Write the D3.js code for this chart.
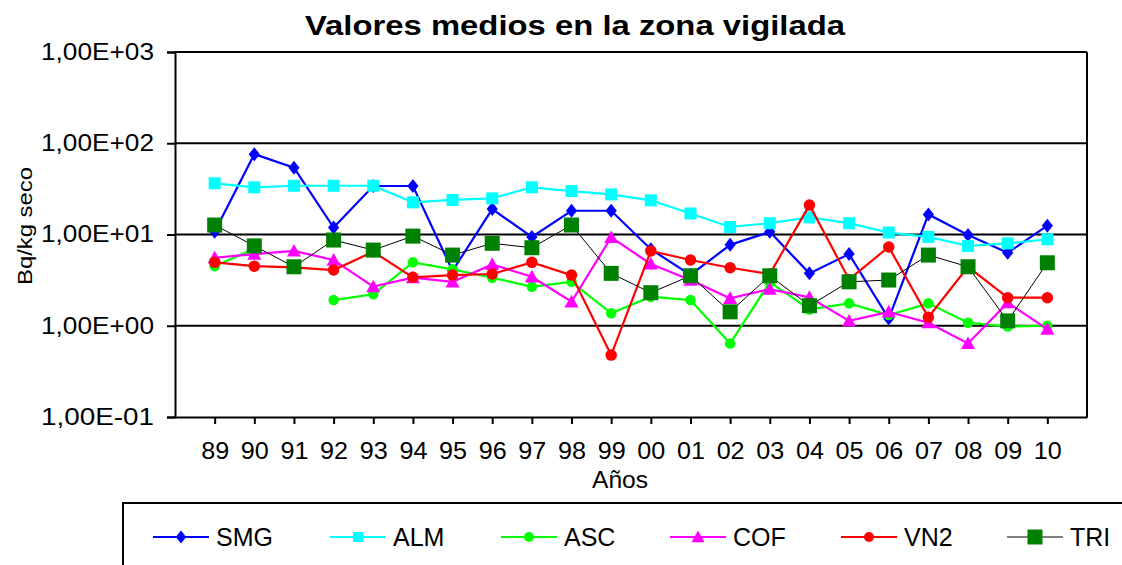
<!DOCTYPE html>
<html><head><meta charset="utf-8">
<script src="https://cdn.jsdelivr.net/npm/d3@7"></script>
<style>
html,body{margin:0;padding:0;background:#fff;}
svg{display:block;font-family:"Liberation Sans",Arial,sans-serif;}
</style></head>
<body>
<svg id="chart" width="1122" height="565"></svg>
<script>
const years = ["89","90","91","92","93","94","95","96","97","98","99","00","01","02","03","04","05","06","07","08","09","10"];
const SMG = [10.7,76,54,11.9,34,34,4.0,19,9.4,18.2,18.2,6.9,3.6,7.7,10.7,3.75,6.1,1.2,16.6,9.9,6.3,12.5];
const ALM = [36.4,32.9,34.2,34.2,34.2,22.5,23.9,24.9,32.9,29.9,27.5,23.7,17,12.1,13.3,15.4,13.3,10.5,9.4,7.5,8.0,8.85];
const ASC = [4.5,7.0,null,1.91,2.21,4.95,4.15,3.36,2.68,3.03,1.37,2.08,1.91,0.64,3.0,1.51,1.76,1.31,1.76,1.08,0.98,1.0];
const COF = [5.56,6.1,6.6,5.25,2.68,3.36,3.03,4.7,3.44,1.83,9.3,4.75,3.17,2.0,2.52,2.05,1.13,1.42,1.08,0.64,1.79,0.92];
const VN2 = [4.95,4.5,4.36,4.08,6.47,3.39,3.59,3.69,4.95,3.59,0.477,6.6,5.25,4.32,3.69,21,3.22,7.3,1.24,4.43,2.03,2.03];
const TRI = [12.7,7.5,4.43,8.7,6.75,9.6,5.95,8.0,7.16,12.7,3.75,2.3,3.53,1.42,3.53,1.66,3.03,3.17,5.95,4.43,1.13,4.9];
const yTicks = [0.1,1,10,100,1000];
const yTickLabels = ["1,00E-01","1,00E+00","1,00E+01","1,00E+02","1,00E+03"];
const seriesNames = ["SMG","ALM","ASC","COF","VN2","TRI"];

const series = [
  {name:"SMG", values:SMG, line:"#0000ff", fill:"#0000ff", shape:"diamond", size:14, lw:2.2},
  {name:"ALM", values:ALM, line:"#00ffff", fill:"#00ffff", shape:"square", size:12, lw:2.2},
  {name:"ASC", values:ASC, line:"#00ff00", fill:"#00ff00", shape:"circle", size:10.5, lw:2.2},
  {name:"COF", values:COF, line:"#ff00ff", fill:"#ff00ff", shape:"triangle", size:14, lw:2.2},
  {name:"VN2", values:VN2, line:"#ff0000", fill:"#ff0000", shape:"circle", size:11.5, lw:2.2},
  {name:"TRI", values:TRI, line:"#000000", fill:"#008000", shape:"square", size:15, lw:1}
];

const svg = d3.select("#chart");
const L = 175, R = 1087, T = 52, B = 417;
const x = d3.scalePoint().domain(years).range([L,R]).padding(1);
const y = d3.scaleLog().domain([0.1,1000]).range([B,T]);

function fit(sel,len){ sel.attr("textLength",len).attr("lengthAdjust","spacingAndGlyphs"); return sel; }

// title
fit(svg.append("text").attr("x",575).attr("y",35).attr("text-anchor","middle")
  .attr("font-weight","bold").attr("font-size",28).text("Valores medios en la zona vigilada"),540);

// gridlines
svg.append("g").selectAll("line").data(yTicks.slice(1)).join("line")
  .attr("x1",L).attr("x2",R).attr("y1",d=>y(d)).attr("y2",d=>y(d))
  .attr("stroke","#000").attr("stroke-width",2);
// right border
svg.append("line").attr("x1",R).attr("x2",R).attr("y1",T).attr("y2",B).attr("stroke","#000").attr("stroke-width",2);

// y axis
const yAxis = d3.axisLeft(y).tickValues(yTicks).tickFormat((d,i)=>yTickLabels[i]).tickSize(8).tickPadding(13);
const gy = svg.append("g").attr("transform",`translate(${L},0)`).call(yAxis);
gy.select(".domain").attr("stroke","#000").attr("stroke-width",2);
gy.selectAll(".tick line").attr("stroke","#000").attr("stroke-width",2);
fit(gy.selectAll("text").attr("font-size",23).attr("fill","#000").attr("font-family","Liberation Sans, Arial, sans-serif"),113);

// x axis
const xAxis = d3.axisBottom(x).tickSize(7).tickPadding(19).tickSizeOuter(0);
const gx = svg.append("g").attr("transform",`translate(0,${B})`).call(xAxis);
gx.select(".domain").attr("stroke","#000").attr("stroke-width",2);
gx.selectAll(".tick line").attr("stroke","#000").attr("stroke-width",2);
fit(gx.selectAll("text").attr("font-size",23).attr("fill","#000").attr("font-family","Liberation Sans, Arial, sans-serif"),28);

// axis titles
fit(svg.append("text").attr("x",620).attr("y",488).attr("text-anchor","middle").attr("font-size",23).text("Años"),56);
fit(svg.append("text").attr("transform","translate(32,226) rotate(-90)").attr("text-anchor","middle").attr("font-size",21).text("Bq/kg seco"),118);

function shapePath(shape,s){
  const h=s/2;
  if(shape==="diamond") return `M0,${-h}L${h*0.8},0L0,${h}L${-h*0.8},0Z`;
  if(shape==="square") return `M${-h},${-h}H${h}V${h}H${-h}Z`;
  if(shape==="triangle") return `M0,${-h}L${h},${h*0.8}L${-h},${h*0.8}Z`;
  return d3.arc()({innerRadius:0,outerRadius:h,startAngle:0,endAngle:2*Math.PI});
}

const lineGen = d3.line().defined(d=>d.v!=null).x(d=>x(d.k)).y(d=>y(d.v));
const plot = svg.append("g");
series.forEach(s=>{
  const pts = years.map((k,i)=>({k, v:s.values[i]}));
  plot.append("path").datum(pts).attr("d",lineGen).attr("fill","none")
    .attr("stroke",s.line).attr("stroke-width",s.lw);
  plot.append("g").selectAll("path").data(pts.filter(d=>d.v!=null)).join("path")
    .attr("transform",d=>`translate(${x(d.k)},${y(d.v)})`)
    .attr("d",shapePath(s.shape,s.size)).attr("fill",s.fill);
});

// legend
svg.append("rect").attr("x",123).attr("y",503).attr("width",1010).attr("height",80)
  .attr("fill","none").attr("stroke","#000").attr("stroke-width",2);
const legX = [153,330,501,670,841,1007];
const legMark = [13,10,10,13,10,15];
const lg = svg.append("g");
series.forEach((s,i)=>{
  const g = lg.append("g").attr("transform",`translate(${legX[i]},537)`);
  g.append("line").attr("x1",0).attr("x2",56).attr("stroke",s.line).attr("stroke-width",s.name==="TRI"?1.2:2);
  g.append("path").attr("transform","translate(28,0)").attr("d",shapePath(s.shape,legMark[i])).attr("fill",s.fill);
  g.append("text").attr("x",63).attr("y",9).attr("font-size",25).text(seriesNames[i]);
});
</script>
</body></html>
